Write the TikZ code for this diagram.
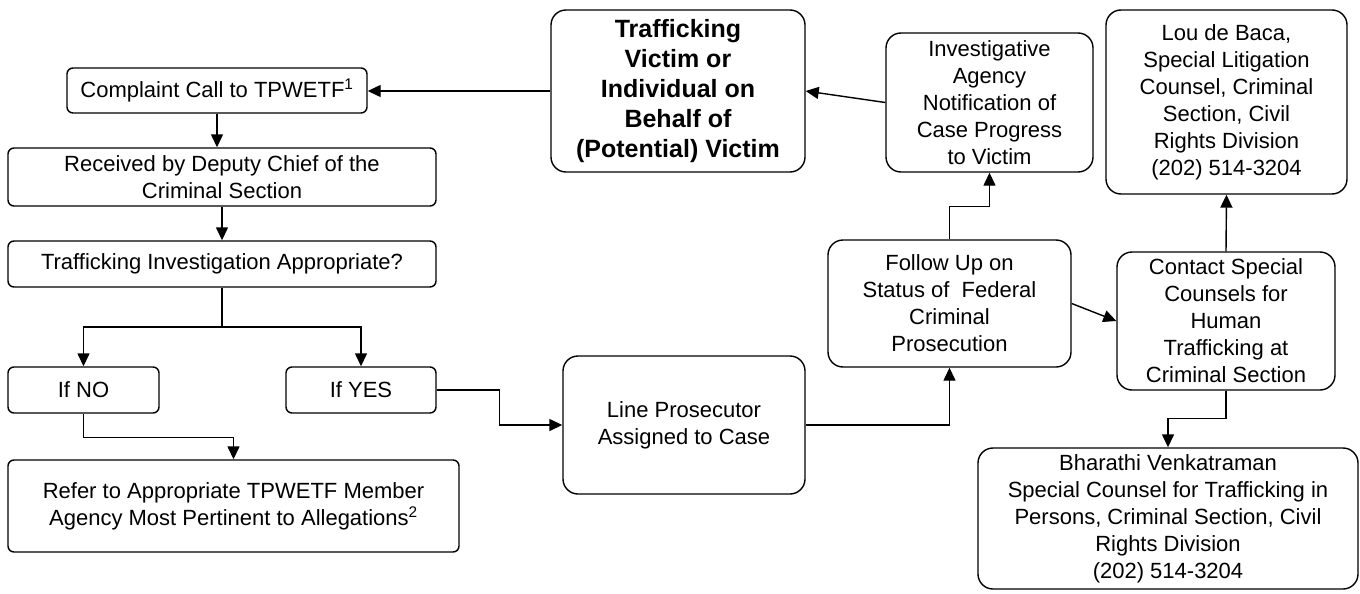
\documentclass[tikz,border=0pt]{standalone}
\usepackage{fontspec}
\setmainfont{Liberation Sans}
\usepackage{tikz}
\usetikzlibrary{arrows.meta}

\begin{document}
\begin{tikzpicture}[x=1pt, y=-1pt, every node/.style={font=\fontsize{22}{27}\selectfont}, >={Triangle[length=13pt, width=12pt]},
	box/.style={draw, line width=1.4pt, rounded corners=6pt, align=center, inner sep=0pt},
	bigbox/.style={box, rounded corners=15pt},
	link/.style={line width=1.4pt, ->}]
	\useasboundingbox (0,0) rectangle (1360,594);
	\node[box, minimum width=300pt, minimum height=45pt] (complaint) at (217,90.5) {Complaint Call to TPWETF\textsuperscript{1}};
	\node[box, minimum width=428pt, minimum height=58pt] (received) at (222,177) {Received by Deputy Chief of the\\Criminal Section};
	\node[box, minimum width=428pt, minimum height=46pt] (question) at (222,264) {Trafficking Investigation Appropriate?};
	\node[box, minimum width=151pt, minimum height=46pt] (ifno) at (83.5,390) {If NO};
	\node[box, minimum width=150pt, minimum height=46pt] (ifyes) at (361,390) {If YES};
	\node[box, minimum width=451pt, minimum height=92pt] (refer) at (233.5,506) {Refer to Appropriate TPWETF Member\\Agency Most Pertinent to Allegations\textsuperscript{2}};
	\node[bigbox, minimum width=242pt, minimum height=138pt] (prosecutor) at (684,425) {Line Prosecutor\\Assigned to Case};
	\node[bigbox, minimum width=254pt, minimum height=162pt, font=\fontsize{25}{30}\selectfont\bfseries] (victim) at (678,91) {Trafficking\\Victim or\\Individual on\\Behalf of\\(Potential) Victim};
	\node[bigbox, minimum width=207pt, minimum height=139pt] (notify) at (989.5,102.5) {Investigative\\Agency\\Notification of\\Case Progress\\to Victim};
	\node[bigbox, minimum width=243pt, minimum height=127pt] (followup) at (949.5,303.5) {Follow Up on\\Status of \ Federal\\Criminal\\Prosecution};
	\node[bigbox, minimum width=241pt, minimum height=184pt] (lou) at (1226.5,102) {Lou de Baca,\\Special Litigation\\Counsel, Criminal\\Section, Civil\\Rights Division\\(202) 514-3204};
	\node[bigbox, minimum width=218pt, minimum height=138pt] (contact) at (1226,321) {Contact Special\\Counsels for\\Human\\Trafficking at\\Criminal Section};
	\node[bigbox, minimum width=380pt, minimum height=141pt] (bharathi) at (1168,518.5) {Bharathi Venkatraman\\Special Counsel for Trafficking in\\Persons, Criminal Section, Civil\\Rights Division\\(202) 514-3204};
	% left column
	\draw[link] (victim.west) -- (victim.west -| complaint.east);
	\draw[link] (complaint.south) -- (complaint.south |- received.north);
	\draw[link] (received) -- (question);
	\coordinate (split) at (222,327);
	\draw[link] (question.south) -- (split) -| (ifno.north);
	\draw[link] (split) -| (ifyes.north);
	\draw[link] (ifno.south) -- ++(0,24) -| (refer.north);
	\draw[link] (ifyes.east) -- ++(63,0) |- (prosecutor.west);
	% right part
	\draw[link] (prosecutor.east) -| (followup.south);
	\draw[link] (followup.north) -- ++(0,-33) -| (notify.south);
	\draw[link] (notify.west) -- (victim.east);
	\draw[link] (followup.east) -- (contact.west);
	\draw[link] (contact.north) -- (lou.south);
	\draw[link] (contact.south) -- ++(0,28) -| (bharathi.north);
\end{tikzpicture}
\end{document}
